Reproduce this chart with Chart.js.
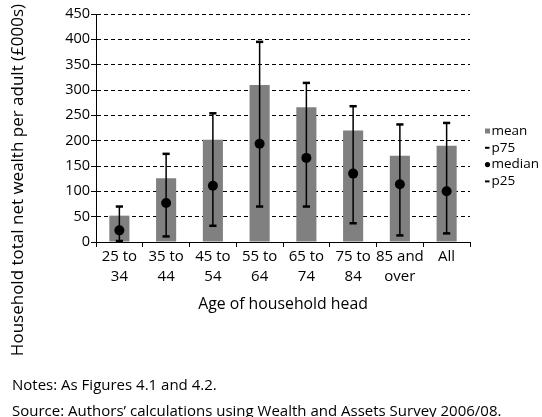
<!DOCTYPE html>
<html><head><meta charset="utf-8">
<script src="https://cdn.jsdelivr.net/npm/chart.js@4/dist/chart.umd.min.js"></script>
<style>
html,body{margin:0;padding:0;background:#fff}
#w{position:relative;width:542px;height:417px;overflow:hidden}
#c{position:absolute;left:0;top:0}
.note{position:absolute;left:12px;font-family:'Open Sans',sans-serif;font-size:15px;line-height:20px;color:#000;white-space:nowrap}
</style>
</head><body>
<div id="w">
<canvas id="c" width="542" height="417"></canvas>
<div class="note" style="top:374px">Notes: As Figures 4.1 and 4.2.</div>
<div class="note" style="top:400px">Source: Authors’ calculations using Wealth and Assets Survey 2006/08.</div>
</div>
<script>
const categories = [["25 to","34"],["35 to","44"],["45 to","54"],["55 to","64"],["65 to","74"],["75 to","84"],["85 and","over"],["All"]];
const meanValues   = [52, 126, 202, 310, 266, 220, 170, 190];
const p75Values    = [70, 174, 254, 395, 314, 268, 232, 235];
const medianValues = [23, 77, 111, 194, 166, 135, 114, 100];
const p25Values    = [2, 11, 32, 70, 70, 37, 13, 17];
const seriesLabels = ["mean", "p75", "median", "p25"];
const yTitle = "Household total net wealth per adult (£000s)";
const xTitle = "Age of household head";

const FONT = "'Open Sans', sans-serif";

const errorBars = {
  id: 'errorBars',
  afterDatasetsDraw(chart) {
    const hi = chart.getDatasetMeta(1).data;
    const lo = chart.getDatasetMeta(3).data;
    const ctx = chart.ctx;
    ctx.save();
    ctx.strokeStyle = '#000';
    ctx.lineWidth = 1.5;
    for (let i = 0; i < hi.length; i++) {
      ctx.beginPath();
      ctx.moveTo(hi[i].x, hi[i].y);
      ctx.lineTo(lo[i].x, lo[i].y);
      ctx.stroke();
    }
    ctx.restore();
  }
};

const extras = {
  id: 'extras',
  afterDraw(chart) {
    const ctx = chart.ctx;
    ctx.save();
    // y title
    ctx.translate(18, 180);
    ctx.rotate(-Math.PI / 2);
    ctx.fillStyle = '#000';
    ctx.font = "17px " + FONT;
    ctx.textAlign = 'center';
    ctx.textBaseline = 'middle';
    ctx.fillText(yTitle, 0, 0);
    ctx.restore();
    // legend
    ctx.save();
    const ds = chart.data.datasets;
    const x0 = 485, y0 = 131, dy = 16.8;
    ctx.font = "13.5px " + FONT;
    ctx.textBaseline = 'middle';
    ctx.textAlign = 'left';
    ds.forEach((d, i) => {
      const y = y0 + i * dy;
      if (i === 0) {
        ctx.fillStyle = d.backgroundColor;
        ctx.fillRect(x0, y - 2.5, 5, 5);
      } else if (i === 2) {
        ctx.fillStyle = '#000';
        ctx.beginPath();
        ctx.arc(x0 + 2.5, y, 2.6, 0, Math.PI * 2);
        ctx.fill();
      } else {
        ctx.fillStyle = '#000';
        ctx.fillRect(x0, y - 1, 4.5, 2);
      }
      ctx.fillStyle = '#000';
      ctx.fillText(d.label, x0 + 6.5, y);
    });
    ctx.restore();
  }
};

new Chart(document.getElementById('c'), {
  data: {
    labels: categories,
    datasets: [
      { type: 'bar', label: seriesLabels[0], data: meanValues, backgroundColor: '#808080',
        barPercentage: 0.43, categoryPercentage: 1, order: 4 },
      { type: 'line', label: seriesLabels[1], data: p75Values, showLine: false,
        pointStyle: 'line', pointRadius: 3.6, pointHoverRadius: 3.6, pointBorderWidth: 2.5,
        borderColor: '#000', backgroundColor: '#000', order: 1 },
      { type: 'line', label: seriesLabels[2], data: medianValues, showLine: false,
        pointStyle: 'circle', pointRadius: 5, pointHoverRadius: 5, pointBorderWidth: 0,
        borderColor: '#000', backgroundColor: '#000', order: 2 },
      { type: 'line', label: seriesLabels[3], data: p25Values, showLine: false,
        pointStyle: 'line', pointRadius: 3.6, pointHoverRadius: 3.6, pointBorderWidth: 2.5,
        borderColor: '#000', backgroundColor: '#000', order: 3 }
    ]
  },
  options: {
    responsive: false,
    animation: false,
    devicePixelRatio: 1,
    layout: { padding: { left: 0, right: 72, top: 14, bottom: 103 } },
    plugins: { legend: { display: false }, tooltip: { enabled: false }, title: { display: false } },
    scales: {
      x: {
        type: 'category',
        offset: true,
        grid: { display: true, drawOnChartArea: false, offset: true, color: '#000', tickLength: 5, lineWidth: 1 },
        border: { display: true, color: '#000', width: 1 },
        ticks: { color: '#000', font: { family: FONT, size: 15, lineHeight: 1.3 }, padding: 0, maxRotation: 0, autoSkip: false },
        title: { display: true, text: xTitle, color: '#000', font: { family: FONT, size: 15.8, lineHeight: 1.2 }, padding: 0 },
        afterFit(s) { s.height = 72; }
      },
      y: {
        min: 0, max: 450,
        ticks: { stepSize: 50, color: '#000', font: { family: FONT, size: 14.5 }, padding: 1 },
        grid: { color: '#000', lineWidth: 1, tickLength: 5, tickColor: '#000', tickBorderDash: [] },
        border: { display: true, color: '#000', width: 1, dash: [4, 3] },
        afterFit(s) { s.width = 96; }
      }
    }
  },
  plugins: [errorBars, extras]
});
</script>
</body></html>
